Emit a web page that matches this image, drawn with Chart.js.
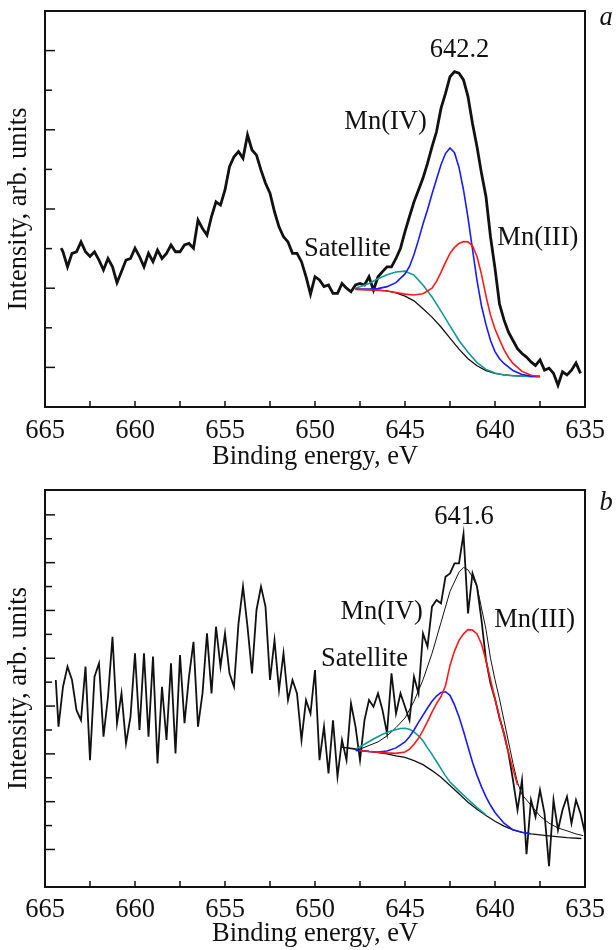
<!DOCTYPE html>
<html>
<head>
<meta charset="utf-8">
<script src="https://cdn.jsdelivr.net/npm/chart.js@4.4.1/dist/chart.umd.min.js"></script>
<style>
  html, body { margin: 0; padding: 0; background: #fff; }
  .panel { position: absolute; left: 0; width: 616px; height: 475px; }
  #panelA { top: 0; }
  #panelB { top: 475px; }
</style>
</head>
<body>
<div class="panel" id="panelA"><canvas id="chartA" width="616" height="475"></canvas></div>
<div class="panel" id="panelB"><canvas id="chartB" width="616" height="475"></canvas></div>
<script>
// ---- panel a : measured spectrum ----
const energyA = [664.1, 664.0, 663.75, 663.5, 663.25, 663.0, 662.75, 662.5, 662.25, 662.0, 661.75, 661.5, 661.25, 661.0,
  660.75, 660.5, 660.25, 660.0, 659.75, 659.5, 659.25, 659.0, 658.75, 658.5, 658.25, 658.0, 657.75, 657.5, 657.25, 657.0,
  656.75, 656.5, 656.25, 656.0, 655.75, 655.5, 655.25, 655.0, 654.75, 654.5, 654.25, 654.0, 653.75, 653.5, 653.25, 653.0,
  652.75, 652.5, 652.25, 652.0, 651.75, 651.5, 651.25, 651.0, 650.75, 650.5, 650.25, 650.0, 649.75, 649.5, 649.25, 649.0,
  648.75, 648.5, 648.25, 648.0, 647.75, 647.5, 647.25, 647.0, 646.75, 646.5, 646.25, 646.0, 645.75, 645.5, 645.25, 645.0,
  644.75, 644.5, 644.25, 644.0, 643.75, 643.5, 643.25, 643.0, 642.75, 642.5, 642.25, 642.0, 641.75, 641.5, 641.25, 641.0,
  640.75, 640.5, 640.25, 640.0, 639.75, 639.5, 639.25, 639.0, 638.75, 638.5, 638.25, 638.0, 637.75, 637.5, 637.25, 637.0,
  636.75, 636.5, 636.25, 636.0, 635.75, 635.5, 635.25];
const intensityA = [4.01, 3.92, 3.54, 3.88, 3.92, 4.17, 3.92, 3.80, 3.92, 3.71, 3.46, 3.75, 3.54, 3.14,
  3.42, 3.71, 3.75, 4.01, 3.80, 3.54, 3.88, 3.67, 3.96, 3.75, 3.88, 4.09, 3.92, 3.92, 4.09, 4.13,
  4.01, 4.72, 4.51, 4.34, 4.81, 5.18, 5.10, 5.48, 6.07, 6.32, 6.45, 6.28, 6.87, 6.49, 6.36, 5.98,
  5.65, 5.40, 4.93, 4.55, 4.30, 4.17, 3.88, 3.88, 3.67, 3.29, 2.85, 3.29, 3.21, 3.04, 3.08, 2.87,
  2.87, 3.12, 3.00, 2.91, 3.08, 3.12, 3.08, 3.29, 2.95, 3.29, 3.42, 3.54, 3.54, 3.75, 4.01, 4.43,
  4.81, 5.18, 5.48, 5.78, 6.15, 6.57, 6.95, 7.54, 7.92, 8.34, 8.47, 8.43, 8.26, 7.84, 7.16, 6.57,
  5.90, 5.31, 4.30, 3.50, 2.60, 2.20, 1.89, 1.68, 1.47, 1.35, 1.26, 1.14, 1.05, 1.19, 0.93, 0.98,
  0.85, 0.55, 0.89, 0.81, 0.93, 1.11, 0.85];

// ---- panel a : fitted components ----
const bgEnergyA = [647.75, 647.0, 646.5, 646.0, 645.5, 645.0, 644.5, 644.0, 643.5, 643.0, 642.5, 642.0, 641.5, 641.0,
  640.5, 640.0, 639.5, 639.0, 638.5, 638.0, 637.5];
const backgroundA = [2.97, 2.96, 2.95, 2.93, 2.88, 2.80, 2.68, 2.48, 2.27, 2.02, 1.74, 1.46, 1.22, 1.04,
  0.92, 0.85, 0.81, 0.79, 0.78, 0.77, 0.77];
const satEnergyA = [647.75, 647.0, 646.5, 646.0, 645.5, 645.0, 644.5, 644.0, 643.5, 643.0, 642.5, 642.0, 641.5, 641.0,
  640.5, 640.0, 639.5, 639.0, 638.0, 637.5];
const satelliteA = [3.00, 3.12, 3.24, 3.34, 3.41, 3.43, 3.33, 3.08, 2.78, 2.42, 2.05, 1.68, 1.38, 1.12,
  0.95, 0.86, 0.81, 0.79, 0.77, 0.77];
const mn4EnergyA = [647.75, 647.0, 646.5, 646.0, 645.5, 645.0, 644.75, 644.5, 644.25, 644.0, 643.75, 643.5, 643.25, 643.0,
  642.75, 642.5, 642.25, 642.0, 641.75, 641.5, 641.25, 641.0, 640.75, 640.5, 640.25, 640.0, 639.75, 639.5, 639.0,
  638.5, 638.0, 637.5];
const mn4A = [2.98, 2.98, 2.99, 3.04, 3.14, 3.36, 3.55, 3.85, 4.22, 4.62, 4.98, 5.38, 5.75, 6.12,
  6.40, 6.54, 6.42, 6.05, 5.48, 4.78, 3.98, 3.20, 2.55, 2.08, 1.68, 1.40, 1.22, 1.10, 0.92,
  0.82, 0.78, 0.77];
const mn3EnergyA = [647.75, 647.0, 646.5, 646.0, 645.5, 645.0, 644.5, 644.0, 643.5, 643.25, 643.0, 642.75, 642.5, 642.25,
  642.0, 641.75, 641.5, 641.25, 641.0, 640.75, 640.5, 640.25, 640.0, 639.75, 639.5, 639.25, 639.0, 638.5, 638.0, 637.5];
const mn3A = [2.97, 2.96, 2.95, 2.93, 2.89, 2.85, 2.83, 2.86, 3.00, 3.17, 3.40, 3.65, 3.88, 4.03,
  4.13, 4.18, 4.17, 4.07, 3.80, 3.35, 2.80, 2.32, 1.97, 1.70, 1.45, 1.25, 1.10, 0.90, 0.80, 0.77];

// ---- panel b : measured spectrum ----
const energyB = [664.4, 664.25, 664.0, 663.75, 663.5, 663.25, 663.0, 662.75, 662.5, 662.25, 662.0, 661.75, 661.5, 661.25,
  661.0, 660.75, 660.5, 660.25, 660.0, 659.75, 659.5, 659.25, 659.0, 658.75, 658.5, 658.25, 658.0, 657.75, 657.5, 657.25,
  657.0, 656.75, 656.5, 656.25, 656.0, 655.75, 655.5, 655.25, 655.0, 654.75, 654.5, 654.25, 654.0, 653.75, 653.5, 653.25,
  653.0, 652.75, 652.5, 652.25, 652.0, 651.75, 651.5, 651.25, 651.0, 650.75, 650.5, 650.25, 650.0, 649.75, 649.5, 649.25,
  649.0, 648.75, 648.5, 648.25, 648.0, 647.75, 647.5, 647.25, 647.0, 646.75, 646.5, 646.25, 646.0, 645.75, 645.5, 645.25,
  645.0, 644.75, 644.5, 644.25, 644.0, 643.75, 643.5, 643.25, 643.0, 642.75, 642.5, 642.25, 642.0, 641.75, 641.5, 641.25,
  641.0, 640.75, 640.5, 640.25, 640.0, 639.75, 639.5, 639.25, 639.0, 638.75, 638.5, 638.25, 638.0, 637.75, 637.5, 637.25,
  637.0, 636.75, 636.5, 636.25, 636.0, 635.75, 635.5, 635.25, 635.0];
const intensityB = [8.09, 6.14, 7.81, 8.65, 8.09, 6.83, 6.41, 8.65, 4.74, 8.23, 8.79, 5.72, 7.39, 9.90,
  6.28, 7.53, 5.44, 6.56, 9.21, 6.00, 9.21, 5.72, 9.07, 4.60, 7.81, 5.58, 8.79, 5.02, 9.13, 6.28,
  8.23, 9.69, 6.14, 7.53, 10.04, 7.53, 10.32, 8.65, 10.04, 8.37, 7.81, 10.46, 12.00, 10.32, 8.37, 11.02,
  12.00, 11.16, 8.09, 9.76, 7.67, 9.21, 7.25, 8.09, 7.53, 5.58, 7.25, 6.69, 8.51, 4.74, 6.14, 4.18,
  6.40, 4.05, 5.58, 4.74, 7.11, 6.14, 4.74, 6.41, 7.25, 6.97, 7.53, 6.83, 5.86, 8.37, 6.69, 7.53,
  6.97, 6.41, 8.23, 7.53, 10.04, 9.49, 11.16, 11.44, 11.30, 12.41, 12.55, 12.97, 12.97, 14.20, 10.88, 12.55,
  12.00, 10.60, 8.92, 7.95, 7.30, 6.50, 5.86, 5.02, 3.90, 2.65, 3.90, 0.80, 3.07, 2.37, 3.49, 2.51,
  0.30, 3.07, 1.81, 2.65, 3.21, 2.09, 3.07, 2.51, 1.67];

// ---- panel b : fitted components ----
const bgEnergyB = [648.5, 648.0, 647.5, 647.0, 646.5, 646.0, 645.5, 645.0, 644.5, 644.0, 643.5, 643.0, 642.5, 642.0,
  641.5, 641.0, 640.5, 640.0, 639.5, 639.0, 638.5, 638.0, 637.0, 636.0, 635.2];
const backgroundB = [5.28, 5.22, 5.16, 5.10, 5.05, 5.00, 4.92, 4.85, 4.72, 4.55, 4.30, 4.02, 3.68, 3.33,
  2.98, 2.68, 2.42, 2.18, 1.98, 1.82, 1.72, 1.65, 1.57, 1.50, 1.46];
const satEnergyB = [647.75, 647.25, 646.75, 646.25, 645.75, 645.25, 645.0, 644.75, 644.5, 644.25, 644.0, 643.75, 643.5,
  643.25, 643.0, 642.75, 642.5, 642.0, 641.5, 641.0, 640.5];
const satelliteB = [5.20, 5.40, 5.62, 5.82, 5.97, 6.06, 6.07, 6.03, 5.92, 5.75, 5.55, 5.25, 4.98,
  4.68, 4.38, 4.08, 3.82, 3.45, 3.10, 2.75, 2.45];
const mn4EnergyB = [647.75, 647.0, 646.5, 646.0, 645.5, 645.0, 644.75, 644.5, 644.25, 644.0, 643.75, 643.5, 643.25, 643.0,
  642.75, 642.5, 642.25, 642.0, 641.75, 641.5, 641.25, 641.0, 640.75, 640.5, 640.25, 640.0, 639.5, 639.0, 638.5, 638.0];
const mn4B = [5.14, 5.10, 5.08, 5.12, 5.25, 5.50, 5.72, 6.00, 6.32, 6.62, 6.92, 7.20, 7.42, 7.57,
  7.60, 7.45, 7.05, 6.55, 5.95, 5.30, 4.65, 4.10, 3.62, 3.20, 2.85, 2.55, 2.10, 1.82, 1.72, 1.66];
const mn3EnergyB = [647.5, 647.0, 646.5, 646.0, 645.5, 645.0, 644.75, 644.5, 644.25, 644.0, 643.75, 643.5, 643.25, 643.0,
  642.75, 642.5, 642.25, 642.0, 641.75, 641.5, 641.25, 641.0, 640.75, 640.5, 640.25, 640.0, 639.75, 639.5, 639.25,
  639.0, 638.75];
const mn3B = [5.14, 5.10, 5.07, 5.04, 5.02, 5.08, 5.20, 5.40, 5.65, 5.98, 6.35, 6.75, 7.10, 7.40,
  7.85, 8.70, 9.30, 9.75, 10.02, 10.20, 10.18, 10.02, 9.60, 8.90, 8.10, 7.30, 6.55, 5.80, 5.05,
  4.35, 3.70];
const envEnergyB = [648.5, 647.5, 646.5, 646.0, 645.5, 645.0, 644.5, 644.0, 643.5, 643.0, 642.5, 642.0, 641.75, 641.5,
  641.25, 641.0, 640.75, 640.5, 640.25, 640.0, 639.75, 639.5, 639.25, 639.0, 638.75, 638.5, 638.0, 637.5, 637.0,
  636.5, 636.0, 635.5, 635.1];
const envelopeB = [5.28, 5.20, 5.50, 5.75, 6.10, 6.50, 7.20, 8.10, 9.20, 10.50, 11.80, 12.60, 12.80, 12.70,
  12.40, 12.00, 11.10, 10.20, 9.00, 8.10, 7.30, 6.40, 5.50, 4.60, 3.80, 3.30, 2.85, 2.40, 2.10,
  1.90, 1.78, 1.65, 1.58];

const FONT = '"Liberation Serif", "Times New Roman", serif';
const FSIZE = 26.5;
const INK = '#111';

function pts(xs, ys) {
  return xs.map((x, i) => ({ x: x, y: ys[i] }));
}

// frame, inward ticks, panel letter and peak labels
const framePlugin = {
  id: 'frame',
  afterDraw(chart, args, opts) {
    const { ctx, chartArea: a, scales: { x, y } } = chart;
    ctx.save();
    ctx.strokeStyle = INK;
    ctx.lineWidth = 1.5;
    x.ticks.forEach(t => {
      const px = x.getPixelForValue(t.value);
      if (px - a.left < 3 || a.right - px < 3) return;
      ctx.beginPath();
      ctx.moveTo(px, a.bottom);
      ctx.lineTo(px, a.bottom - 6);
      ctx.stroke();
    });
    y.ticks.forEach(t => {
      if (!Number.isInteger(t.value)) return;
      const py = y.getPixelForValue(t.value);
      if (py - a.top < 4 || a.bottom - py < 4) return;
      const len = Math.abs(t.value) % 2 === 1 ? 10 : 7;
      ctx.beginPath();
      ctx.moveTo(a.left, py);
      ctx.lineTo(a.left + len, py);
      ctx.stroke();
    });
    ctx.lineWidth = 2;
    ctx.strokeRect(a.left, a.top, a.right - a.left, a.bottom - a.top);

    ctx.fillStyle = INK;
    ctx.textAlign = 'center';
    ctx.textBaseline = 'middle';
    ctx.font = FSIZE + 'px ' + FONT;
    opts.labels.forEach(l => {
      ctx.fillText(l.text, x.getPixelForValue(l.x), y.getPixelForValue(l.y));
    });
    ctx.font = 'italic ' + FSIZE + 'px ' + FONT;
    ctx.fillText(opts.letter, a.right + 21, opts.letterY);
    ctx.restore();
  }
};

function makeChart(id, cfg) {
  const series = [
    { data: pts(cfg.mn3[0], cfg.mn3[1]), borderColor: '#ff1a1a', borderWidth: 1.6 },
    { data: pts(cfg.mn4[0], cfg.mn4[1]), borderColor: '#1a1aff', borderWidth: 1.6 },
    { data: pts(cfg.sat[0], cfg.sat[1]), borderColor: '#129a94', borderWidth: 1.6 },
    { data: pts(cfg.bg[0], cfg.bg[1]), borderColor: INK, borderWidth: 1.3 }
  ];
  if (cfg.env) series.push({ data: pts(cfg.env[0], cfg.env[1]), borderColor: INK, borderWidth: 1 });
  series.push({ data: pts(cfg.raw[0], cfg.raw[1]), borderColor: INK, borderWidth: cfg.rawWidth });

  return new Chart(document.getElementById(id), {
    type: 'line',
    data: {
      datasets: series.map(s => Object.assign({ pointRadius: 0, tension: 0, fill: false }, s))
    },
    options: {
      responsive: false,
      animation: false,
      layout: { padding: { top: cfg.top, right: 31, left: 0, bottom: 0 } },
      plugins: {
        legend: { display: false },
        tooltip: { enabled: false },
        frame: { labels: cfg.labels, letter: cfg.letter, letterY: cfg.letterY }
      },
      scales: {
        x: {
          type: 'linear', reverse: true, min: 635, max: 665,
          grid: { display: false, drawTicks: false },
          border: { display: false },
          ticks: {
            stepSize: 2.5, autoSkip: false, maxRotation: 0, padding: cfg.tickPad,
            color: INK, font: { family: FONT, size: FSIZE },
            callback: v => (v % 5 === 0 ? String(v) : '')
          },
          title: {
            display: true, text: 'Binding energy, eV', color: INK,
            font: { family: FONT, size: FSIZE }, padding: { top: 0, bottom: cfg.titlePad }
          },
          afterFit: s => { s.height = cfg.xHeight; }
        },
        y: {
          type: 'linear', min: cfg.yMin, max: cfg.yMax,
          grid: { display: false, drawTicks: false },
          border: { display: false },
          ticks: { display: false, stepSize: 1 },
          title: {
            display: true, text: 'Intensity, arb. units', color: INK,
            font: { family: FONT, size: FSIZE }, padding: { top: 3, bottom: 0 }
          },
          afterFit: s => { s.width = 45; }
        }
      }
    },
    plugins: [framePlugin]
  });
}

makeChart('chartA', {
  raw: [energyA, intensityA], rawWidth: 2.8,
  bg: [bgEnergyA, backgroundA], sat: [satEnergyA, satelliteA],
  mn4: [mn4EnergyA, mn4A], mn3: [mn3EnergyA, mn3A],
  yMin: 0, yMax: 10, top: 11, xHeight: 68, tickPad: 8, titlePad: 2,
  letter: 'a', letterY: 18,
  labels: [
    { text: '642.2', x: 641.97, y: 9.02 },
    { text: 'Mn(IV)', x: 646.08, y: 7.2 },
    { text: 'Mn(III)', x: 637.62, y: 4.26 },
    { text: 'Satellite', x: 648.2, y: 4.0 }
  ]
});

makeChart('chartB', {
  raw: [energyB, intensityB], rawWidth: 1.8,
  bg: [bgEnergyB, backgroundB], sat: [satEnergyB, satelliteB],
  mn4: [mn4EnergyB, mn4B], mn3: [mn3EnergyB, mn3B], env: [envEnergyB, envelopeB],
  yMin: -0.57, yMax: 16.04, top: 15, xHeight: 63, tickPad: 7, titlePad: 0,
  letter: 'b', letterY: 28,
  labels: [
    { text: '641.6', x: 641.72, y: 14.92 },
    { text: 'Mn(IV)', x: 646.3, y: 10.95 },
    { text: 'Mn(III)', x: 637.8, y: 10.6 },
    { text: 'Satellite', x: 647.25, y: 8.95 }
  ]
});
</script>
</body>
</html>
